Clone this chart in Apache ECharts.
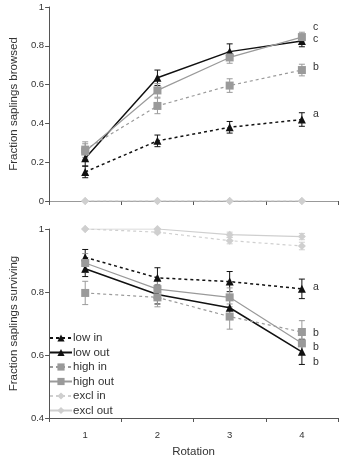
<!DOCTYPE html>
<html lang="en">
<head>
    <meta charset="UTF-8">
    <title>Fraction saplings browsed / surviving</title>
    <script src="https://cdn.jsdelivr.net/npm/echarts@6/dist/echarts.min.js"></script>
    <style>
        body {margin: 0;}
        #main {width: 342px; height: 459px;}
    </style>
</head>
<body>
<div id="main"></div>
<script>
    // data
    var rotations = ['1', '2', '3', '4']
    var groupNames = ['low in', 'low out', 'high in', 'high out', 'excl in', 'excl out']

    var browsedLowIn = [0.15, 0.31, 0.38, 0.42]
    var browsedLowOut = [0.22, 0.635, 0.77, 0.825]
    var browsedHighIn = [0.265, 0.49, 0.595, 0.675]
    var browsedHighOut = [0.255, 0.57, 0.74, 0.845]
    var browsedExclIn = [0, 0, 0, 0]
    var browsedExclOut = [0, 0, 0, 0]

    var browsedLowInErr = [0.03, 0.03, 0.03, 0.035]
    var browsedLowOutErr = [0.04, 0.04, 0.04, 0.03]
    var browsedHighInErr = [0.04, 0.04, 0.035, 0.03]
    var browsedHighOutErr = [0.04, 0.035, 0.03, 0.025]

    var survLowIn = [0.91, 0.845, 0.833, 0.81]
    var survLowOut = [0.874, 0.792, 0.75, 0.61]
    var survHighIn = [0.797, 0.783, 0.722, 0.673]
    var survHighOut = [0.892, 0.809, 0.783, 0.637]
    var survExclIn = [1.0, 0.99, 0.963, 0.946]
    var survExclOut = [1.0, 1.0, 0.982, 0.976]

    var survLowInErr = [0.025, 0.032, 0.032, 0.031]
    var survLowOutErr = [0.025, 0.03, 0.03, 0.04]
    var survHighInErr = [0.037, 0.03, 0.04, 0.036]
    var survHighOutErr = [0.03, 0.03, 0.03, 0.035]
    var survExclInErr = [0, 0.005, 0.01, 0.012]
    var survExclOutErr = [0, 0, 0.008, 0.01]

    // significance letters at rotation 4
    var browsedLetters = ['a', 'b', 'c', 'c']
    var browsedLetterY = [0.446, 0.691, 0.832, 0.897]
    var survLetters = ['a', 'b', 'b', 'b']
    var survLetterY = [0.814, 0.67, 0.625, 0.577]

    var black = '#111'
    var gray = '#9a9a9a'
    var light = '#cfcfcf'

    var styles = {
        'low in': {color: black, symbol: 'triangle', size: 8, type: [3, 3], width: 1.5},
        'low out': {color: black, symbol: 'triangle', size: 8, type: 'solid', width: 1.5},
        'high in': {color: gray, symbol: 'rect', size: 8, type: [3, 3], width: 1.2},
        'high out': {color: gray, symbol: 'rect', size: 8, type: 'solid', width: 1.2},
        'excl in': {color: light, symbol: 'diamond', size: 8, type: [3, 3], width: 1.2},
        'excl out': {color: light, symbol: 'diamond', size: 8, type: 'solid', width: 1.2}
    }

    function lineSeries(name, values, idx) {
        var s = styles[name]
        return {
            name: name,
            type: 'line',
            xAxisIndex: idx,
            yAxisIndex: idx,
            data: values,
            symbol: s.symbol,
            symbolSize: s.size,
            itemStyle: {color: s.color},
            lineStyle: {color: s.color, width: s.width, type: s.type},
            z: 3
        }
    }

    function errSeries(name, values, errs, idx) {
        var data = values.map(function (v, i) {
            return [i, v, errs[i]]
        })
        return {
            type: 'custom',
            xAxisIndex: idx,
            yAxisIndex: idx,
            data: data,
            z: 2,
            renderItem: function (params, api) {
                var e = api.value(2)
                if (!e) return
                var hi = api.coord([api.value(0), api.value(1) + e])
                var lo = api.coord([api.value(0), api.value(1) - e])
                var st = {stroke: styles[name].color, lineWidth: 1}
                return {
                    type: 'group',
                    children: [
                        {type: 'line', shape: {x1: hi[0], y1: hi[1], x2: lo[0], y2: lo[1]}, style: st},
                        {type: 'line', shape: {x1: hi[0] - 3, y1: hi[1], x2: hi[0] + 3, y2: hi[1]}, style: st},
                        {type: 'line', shape: {x1: lo[0] - 3, y1: lo[1], x2: lo[0] + 3, y2: lo[1]}, style: st}
                    ]
                }
            }
        }
    }

    function letterSeries(letters, ys, idx) {
        return {
            type: 'custom',
            xAxisIndex: idx,
            yAxisIndex: idx,
            data: letters.map(function (l, i) { return [3, ys[i]] }),
            renderItem: function (params, api) {
                var p = api.coord([api.value(0), api.value(1)])
                return {
                    type: 'text',
                    x: p[0] + 11,
                    y: p[1],
                    style: {
                        text: letters[params.dataIndex],
                        fill: '#333',
                        fontSize: 10.5,
                        fontFamily: 'Liberation Sans',
                        verticalAlign: 'middle'
                    }
                }
            }
        }
    }

    var axisLabel = {color: '#333', fontSize: 9.5, fontFamily: 'Liberation Sans'}
    var axisName = {color: '#333', fontSize: 11.5, fontFamily: 'Liberation Sans'}

    function makeXAxis(idx, showLabel) {
        return {
            type: 'category',
            gridIndex: idx,
            data: rotations,
            boundaryGap: true,
            axisLine: {lineStyle: {color: idx === 0 ? '#999' : '#555'}},
            axisTick: {show: true, length: 4, lineStyle: {color: '#555'}},
            axisLabel: Object.assign({show: showLabel, margin: 12}, axisLabel),
            name: showLabel ? 'Rotation' : '',
            nameLocation: 'middle',
            nameGap: 28,
            nameTextStyle: axisName
        }
    }

    function makeYAxis(idx, min, max, interval, name) {
        return {
            type: 'value',
            gridIndex: idx,
            min: min,
            max: max,
            interval: interval,
            name: name,
            nameLocation: 'middle',
            nameGap: 28,
            nameTextStyle: axisName,
            axisLine: {show: true, lineStyle: {color: '#555'}},
            axisTick: {show: true, length: 4, lineStyle: {color: '#555'}},
            axisLabel: Object.assign({margin: 5}, axisLabel),
            splitLine: {show: false}
        }
    }

    var series = []
    var browsedAll = [browsedLowIn, browsedLowOut, browsedHighIn, browsedHighOut, browsedExclIn, browsedExclOut]
    var browsedErrAll = [browsedLowInErr, browsedLowOutErr, browsedHighInErr, browsedHighOutErr, null, null]
    var survAll = [survLowIn, survLowOut, survHighIn, survHighOut, survExclIn, survExclOut]
    var survErrAll = [survLowInErr, survLowOutErr, survHighInErr, survHighOutErr, survExclInErr, survExclOutErr]

    groupNames.forEach(function (name, i) {
        series.push(lineSeries(name, browsedAll[i], 0))
        if (browsedErrAll[i]) series.push(errSeries(name, browsedAll[i], browsedErrAll[i], 0))
        series.push(lineSeries(name, survAll[i], 1))
        series.push(errSeries(name, survAll[i], survErrAll[i], 1))
    })
    series.push(letterSeries(browsedLetters, browsedLetterY, 0))
    series.push(letterSeries(survLetters, survLetterY, 1))

    var chart = echarts.init(document.getElementById('main'))
    var option = {
        animation: false,
        backgroundColor: '#fff',
        textStyle: {fontFamily: 'Liberation Sans'},
        grid: [
            {left: 40, right: 4, top: 7, height: 194},
            {left: 40, right: 4, top: 229, height: 194}
        ],
        legend: {
            data: groupNames,
            orient: 'vertical',
            left: 44,
            top: 327,
            itemWidth: 22,
            itemHeight: 9,
            itemGap: 2.5,
            textStyle: {color: '#333', fontSize: 11.5, fontFamily: 'Liberation Sans', padding: [0, 0, 0, -4]}
        },
        xAxis: [makeXAxis(0, false), makeXAxis(1, true)],
        yAxis: [
            makeYAxis(0, 0, 1, 0.2, 'Fraction saplings browsed'),
            makeYAxis(1, 0.4, 1, 0.2, 'Fraction saplings surviving')
        ],
        series: series
    }
    chart.setOption(option)
</script>
</body>
</html>
